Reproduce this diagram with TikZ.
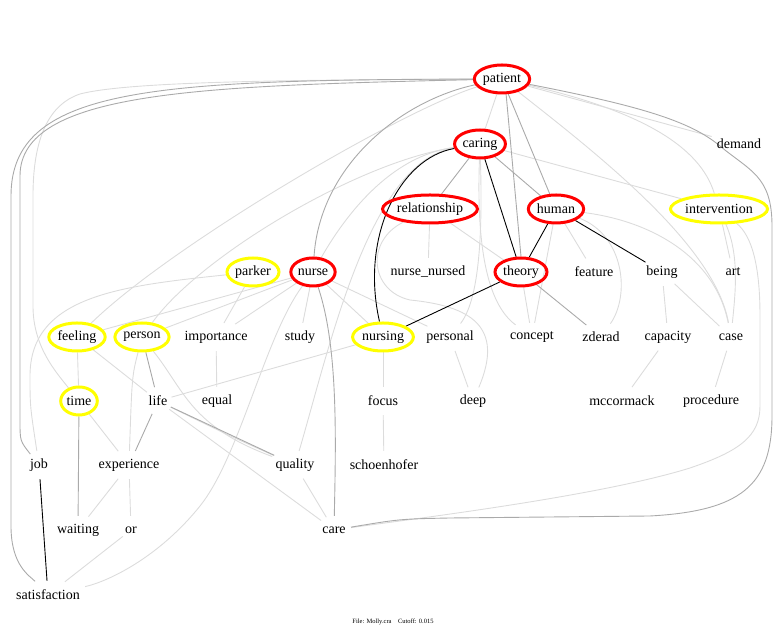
\documentclass[tikz,border=0pt]{standalone}
\usepackage{fontspec}
\setmainfont{Liberation Serif}
\usetikzlibrary{shapes.geometric, backgrounds}
\definecolor{cred}{HTML}{FF0000}
\definecolor{cyellow}{HTML}{FFFF00}
\definecolor{clight}{HTML}{DCDCDC}
\definecolor{cmid}{HTML}{AAAAAA}
\tikzset{
  every picture/.style={x=1pt, y=1pt, font=\fontsize{14}{16}\selectfont},
  term/.style={ellipse, inner xsep=0.5pt, inner ysep=0pt, minimum height=28pt},
  hub/.style={term, draw=#1, line width=3pt},
  hub/.default=cred,
  faint/.style={draw=clight, line width=0.9pt},
  mid/.style={draw=cmid, line width=0.9pt},
  strong/.style={draw=black, line width=0.9pt},
  footnote/.style={font=\fontsize{6.5}{7}\selectfont},
}

\begin{document}
\begin{tikzpicture}
  \useasboundingbox (0,0) rectangle (780,636);
  % terms, row by row
  \node[hub] (patient) at (502,557) {patient};
  \node[hub] (caring) at (480,492) {caring};
  \node[term] (demand) at (739,492) {demand};
  \node[hub] (relationship) at (430,427) {relationship};
  \node[hub] (human) at (556,427) {human};
  \node[hub=cyellow] (intervention) at (719,427) {intervention};
  \node[hub=cyellow] (parker) at (253,364) {parker};
  \node[hub] (nurse) at (313,364) {nurse};
  \node[term] (nurse_nursed) at (428,364) {nurse\_nursed};
  \node[hub] (theory) at (521,364) {theory};
  \node[term] (feature) at (594,364) {feature};
  \node[term] (being) at (662,364) {being};
  \node[term] (art) at (733,364) {art};
  \node[hub=cyellow] (feeling) at (77,299) {feeling};
  \node[hub=cyellow] (person) at (142,299) {person};
  \node[term] (importance) at (216,299) {importance};
  \node[term] (study) at (300,299) {study};
  \node[hub=cyellow] (nursing) at (383,299) {nursing};
  \node[term] (personal) at (450,299) {personal};
  \node[term] (concept) at (532,299) {concept};
  \node[term] (zderad) at (601,299) {zderad};
  \node[term] (capacity) at (668,299) {capacity};
  \node[term] (case) at (731,299) {case};
  \node[hub=cyellow] (time) at (79,235) {time};
  \node[term] (life) at (158,235) {life};
  \node[term] (equal) at (217,235) {equal};
  \node[term] (focus) at (383,235) {focus};
  \node[term] (deep) at (473,235) {deep};
  \node[term] (mccormack) at (622,235) {mccormack};
  \node[term] (procedure) at (711,235) {procedure};
  \node[term] (job) at (39,171) {job};
  \node[term] (experience) at (129,171) {experience};
  \node[term] (quality) at (295,171) {quality};
  \node[term] (schoenhofer) at (384,171) {schoenhofer};
  \node[term] (waiting) at (78,106) {waiting};
  \node[term] (or) at (131,106) {or};
  \node[term] (care) at (334,106) {care};
  \node[term] (satisfaction) at (48,41) {satisfaction};
  \node[footnote] (footer) at (393,14) {File: Molly.cra\quad Cutoff: 0.015};

  \begin{scope}[on background layer]
    % weak links
    \draw[faint] (patient) -- (caring);
    \draw[faint] (patient) -- (demand);
    \draw[faint] (patient) .. controls (640,525) and (700,490) .. (intervention);
    \draw[faint] (patient) .. controls (600,480) and (715,390) .. (case);
    \draw[faint] (patient) .. controls (400,525) and (170,390) .. (feeling);
    \draw[faint] (patient) .. controls (300,556) and (130,555) .. (80,542) .. controls (50,532) and (33,500) .. (33,440) -- (33,330) .. controls (33,290) and (55,265) .. (time);
    \draw[faint] (caring) -- (intervention);
    \draw[faint] (caring) .. controls (476,380) and (490,330) .. (concept);
    \draw[faint] (caring) .. controls (482,420) and (482,340) .. (personal);
    \draw[faint] (caring) .. controls (360,475) and (200,380) .. (person);
    \draw[faint] (caring) .. controls (390,480) and (345,420) .. (nurse);
    \draw[faint] (caring) .. controls (370,475) and (330,290) .. (quality);
    \draw[faint] (relationship) -- (nurse_nursed);
    \draw[faint] (relationship) -- (theory);
    \draw[faint] (relationship) .. controls (365,395) and (370,345) .. (410,336) .. controls (470,330) and (505,310) .. (deep);
    \draw[faint] (human) -- (feature);
    \draw[faint] (human) -- (concept);
    \draw[faint] (human) .. controls (625,400) and (630,340) .. (zderad);
    \draw[faint] (human) .. controls (650,415) and (715,380) .. (case);
    \draw[faint] (theory) -- (concept);
    \draw[faint] (nurse) -- (feeling);
    \draw[faint] (nurse) -- (person);
    \draw[faint] (nurse) -- (importance);
    \draw[faint] (nurse) -- (study);
    \draw[faint] (nurse) -- (nursing);
    \draw[faint] (nurse) -- (personal);
    \draw[faint] (nurse) .. controls (265,300) and (240,180) .. (200,130) .. controls (160,80) and (110,55) .. (satisfaction);
    \draw[faint] (parker) -- (importance);
    \draw[faint] (parker) .. controls (120,350) and (30,340) .. (30,260) .. controls (30,230) .. (job);
    \draw[faint] (feeling) -- (time);
    \draw[faint] (feeling) -- (life);
    \draw[faint] (person) .. controls (132,260) .. (experience);
    \draw[faint] (person) .. controls (185,245) and (190,210) .. (quality);
    \draw[faint] (importance) -- (equal);
    \draw[faint] (nursing) -- (focus);
    \draw[faint] (nursing) -- (life);
    \draw[faint] (focus) -- (schoenhofer);
    \draw[faint] (personal) -- (deep);
    \draw[faint] (time) -- (experience);
    \draw[faint] (life) -- (care);
    \draw[faint] (life) .. controls (230,200) .. (quality);
    \draw[faint] (experience) -- (waiting);
    \draw[faint] (experience) -- (or);
    \draw[faint] (or) -- (satisfaction);
    \draw[faint] (quality) -- (care);
    \draw[faint] (intervention) -- (art);
    \draw[faint] (intervention) .. controls (740,380) and (735,340) .. (case);
    \draw[faint] (intervention) .. controls (752,400) and (760,370) .. (760,320) -- (760,230) .. controls (760,200) and (740,185) .. (690,168) .. controls (600,140) and (420,118) .. (care);
    \draw[faint] (being) -- (capacity);
    \draw[faint] (being) -- (case);
    \draw[faint] (capacity) -- (mccormack);
    \draw[faint] (case) -- (procedure);
    % medium links
    \draw[mid] (patient.-75) -- (theory.north);
    \draw[mid] (patient) -- (human);
    \draw[mid] (caring) -- (relationship);
    \draw[mid] (caring) -- (human);
    \draw[mid] (theory) -- (zderad);
    \draw[mid] (patient) .. controls (400,535) and (320,470) .. (nurse);
    \draw[mid] (patient) .. controls (200,550) and (20,545) .. (20,460) -- (20,215) .. controls (20,195) .. (job);
    \draw[mid] (patient) .. controls (150,556) and (11,548) .. (11,440) -- (11,110) .. controls (11,70) and (30,60) .. (satisfaction);
    \draw[mid] (patient) .. controls (640,530) and (690,515) .. (720,490) .. controls (750,465) and (772,460) .. (772,410) -- (772,220) .. controls (772,150) and (740,125) .. (650,120) -- (450,118) .. controls (400,117) .. (care);
    \draw[mid] (nurse) .. controls (338,290) and (336,200) .. (care);
    \draw[mid] (time) -- (waiting);
    \draw[mid] (person) -- (life);
    \draw[mid] (life) -- (experience);
    \draw[mid] (life) -- (quality);
    % strong links
    \draw[strong] (caring) -- (theory);
    \draw[strong] (caring) .. controls (400,478) and (360,400) .. (nursing);
    \draw[strong] (human) -- (theory);
    \draw[strong] (human) -- (being);
    \draw[strong] (theory) -- (nursing);
    \draw[strong] (job) -- (satisfaction);
  \end{scope}
\end{tikzpicture}
\end{document}
